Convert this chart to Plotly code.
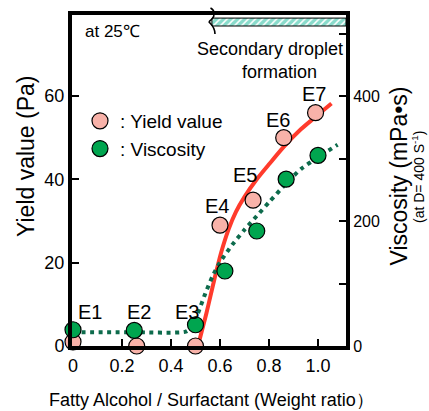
import plotly.graph_objects as go

# ---------------- data ----------------
labels = ["E1", "E2", "E3", "E4", "E5", "E6", "E7"]
ratio_yield = [0.0, 0.26, 0.5, 0.60, 0.735, 0.86, 0.99]
yield_value = [1.0, 0.0, 0.0, 29.0, 35.0, 50.0, 56.0]
ratio_visc = [0.0, 0.25, 0.5, 0.62, 0.75, 0.87, 1.0]
viscosity = [26, 25, 34, 120, 184, 267, 305]

# hand-drawn trend curves
yield_curve_x = [0.512, 0.545, 0.575, 0.605, 0.635, 0.665, 0.70, 0.75, 0.80, 0.86, 0.93, 0.99, 1.055]
yield_curve_y = [0.5, 8, 15.5, 22.5, 28, 32.2, 35.8, 40.0, 43.6, 47.8, 52.0, 55.0, 58.2]
visc_curve_x = [0.0, 0.25, 0.46, 0.49, 0.51, 0.54, 0.57, 0.60, 0.65, 0.70, 0.75, 0.80, 0.87, 0.93, 1.0, 1.08]
visc_curve_y = [22, 22, 23, 32, 52, 84, 112, 134, 162, 186, 208, 230, 260, 283, 302, 322]

# secondary droplet formation region (ratio range) near the top
secondary_x = [0.567, 1.1143]
secondary_y = [76.8, 78.7]

x_ticks = [0, 0.2, 0.4, 0.6, 0.8, 1.0]
x_ticktext = ["0", "0.2", "0.4", "0.6", "0.8", "1.0"]
y_ticks = [0, 20, 40, 60]
y2_ticks = [0, 200, 400]
y2_minor_step = 100

# label offsets (pixels) relative to yield points
label_dx = [17, 2, -9, -3, -8, -6, -2]
label_dy = [30, 34, 34, 19, 25, 18, 19]

# ---------------- layout geometry ----------------
W, H = 429, 411
ML, MR, MT, MB = 72, 83, 15, 65
PW, PH = W - ML - MR, H - MT - MB
FONT = "Arial, Liberation Sans, sans-serif"

RED = "#ff3b2c"
PINK = "#f8b2a9"
GREEN = "#00a54f"
DKGREEN = "#0d6b4c"
TEAL = "#14b898"


def px(xp, yp):
    return (xp - ML) / PW, (H - MB - yp) / PH


fig = go.Figure()

# hatched band
fig.add_trace(go.Scatter(
    x=[secondary_x[0], secondary_x[1], secondary_x[1], secondary_x[0], secondary_x[0]],
    y=[secondary_y[0], secondary_y[0], secondary_y[1], secondary_y[1], secondary_y[0]],
    mode="lines", fill="toself", line=dict(color="black", width=1),
    fillpattern=dict(shape="/", fgcolor=TEAL, bgcolor="white", size=5, solidity=0.7),
    fillcolor="white", showlegend=False, hoverinfo="skip"))

# red yield curve
fig.add_trace(go.Scatter(x=yield_curve_x, y=yield_curve_y, mode="lines",
                         line=dict(color=RED, width=4, shape="spline", smoothing=0.8),
                         showlegend=False, hoverinfo="skip"))

# green dotted viscosity curve
fig.add_trace(go.Scatter(x=visc_curve_x, y=visc_curve_y, yaxis="y2", mode="lines",
                         line=dict(color=DKGREEN, width=4, dash="4px,4.5px", shape="spline", smoothing=0.6),
                         showlegend=False, hoverinfo="skip"))

fig.add_trace(go.Scatter(x=ratio_yield, y=yield_value, mode="markers", name=": Yield value",
                         marker=dict(size=16, color=PINK, line=dict(color="black", width=1.2)),
                         cliponaxis=False))
fig.add_trace(go.Scatter(x=ratio_visc, y=viscosity, yaxis="y2", mode="markers", name=": Viscosity",
                         marker=dict(size=16, color=GREEN, line=dict(color="black", width=1.2)),
                         cliponaxis=False))

ann = []
for lab, xv, yv, dx, dy in zip(labels, ratio_yield, yield_value, label_dx, label_dy):
    ann.append(dict(x=xv, y=yv, xref="x", yref="y", text=lab, showarrow=False,
                    xshift=dx, yshift=dy, font=dict(size=20, color="black", family=FONT)))


def txt(text, cx, cy, size, angle=0):
    xp, yp = px(cx, cy)
    ann.append(dict(x=xp, y=yp, xref="paper", yref="paper", text=text, showarrow=False,
                    textangle=angle, xanchor="center", yanchor="middle",
                    font=dict(size=size, color="black", family=FONT)))


txt("at 25℃", 112.5, 31, 17)
txt("Secondary droplet", 270, 49, 18)
txt("formation", 279, 72, 18)
txt("Yield value (Pa)", 26, 156, 23, -90)
txt("Viscosity (mPa•s)", 398, 176.5, 23, -90)
txt("(at D= 400 S<sup>-1</sup>)", 418, 177, 14, -90)
txt("Fatty Alcohol / Surfactant (Weight ratio）", 211, 400, 18)

# curly brace
brace_px = [(210.5, 8), (215, 10), (215, 16), (212, 19), (210, 21), (208, 22),
            (210, 23), (212, 25), (215, 28), (215, 34), (209, 38)]
pp = [px(a, b) for a, b in brace_px]
path = "M {:.5f},{:.5f}".format(*pp[0])
for i in range(1, len(pp) - 1, 3):
    path += " C {:.5f},{:.5f} {:.5f},{:.5f} {:.5f},{:.5f}".format(*pp[i], *pp[i + 1], *pp[i + 2])
shapes = [dict(type="path", path=path, xref="paper", yref="paper",
               line=dict(color="black", width=1.6))]

axis_common = dict(showline=True, linecolor="black", linewidth=4, ticks="inside",
                   ticklen=7, tickwidth=2, tickcolor="black", showgrid=False, zeroline=False,
                   tickfont=dict(size=18, color="black", family=FONT))

fig.update_layout(
    width=W, height=H, margin=dict(l=ML, r=MR, t=MT, b=MB),
    paper_bgcolor="white", plot_bgcolor="white",
    font=dict(family=FONT, color="black"),
    xaxis=dict(range=[-0.0041, 1.1143], tickvals=x_ticks, ticktext=x_ticktext, mirror=True,
               **axis_common),
    yaxis=dict(range=[0, 79.44], tickvals=y_ticks, **axis_common),
    yaxis2=dict(range=[0, 529.6], tickvals=y2_ticks, overlaying="y", side="right",
                minor=dict(dtick=y2_minor_step, tick0=0, ticks="inside", ticklen=7,
                           tickwidth=2, tickcolor="black", showgrid=False),
                **{**axis_common, "tickfont": dict(size=16, color="black", family=FONT)}),
    legend=dict(x=px(80, 0)[0], y=px(0, 102)[1], xanchor="left", yanchor="top",
                bgcolor="rgba(0,0,0,0)", font=dict(size=19, color="black", family=FONT),
                itemsizing="trace", tracegroupgap=0),
    annotations=ann, shapes=shapes,
)

fig.write_html("out.html")
